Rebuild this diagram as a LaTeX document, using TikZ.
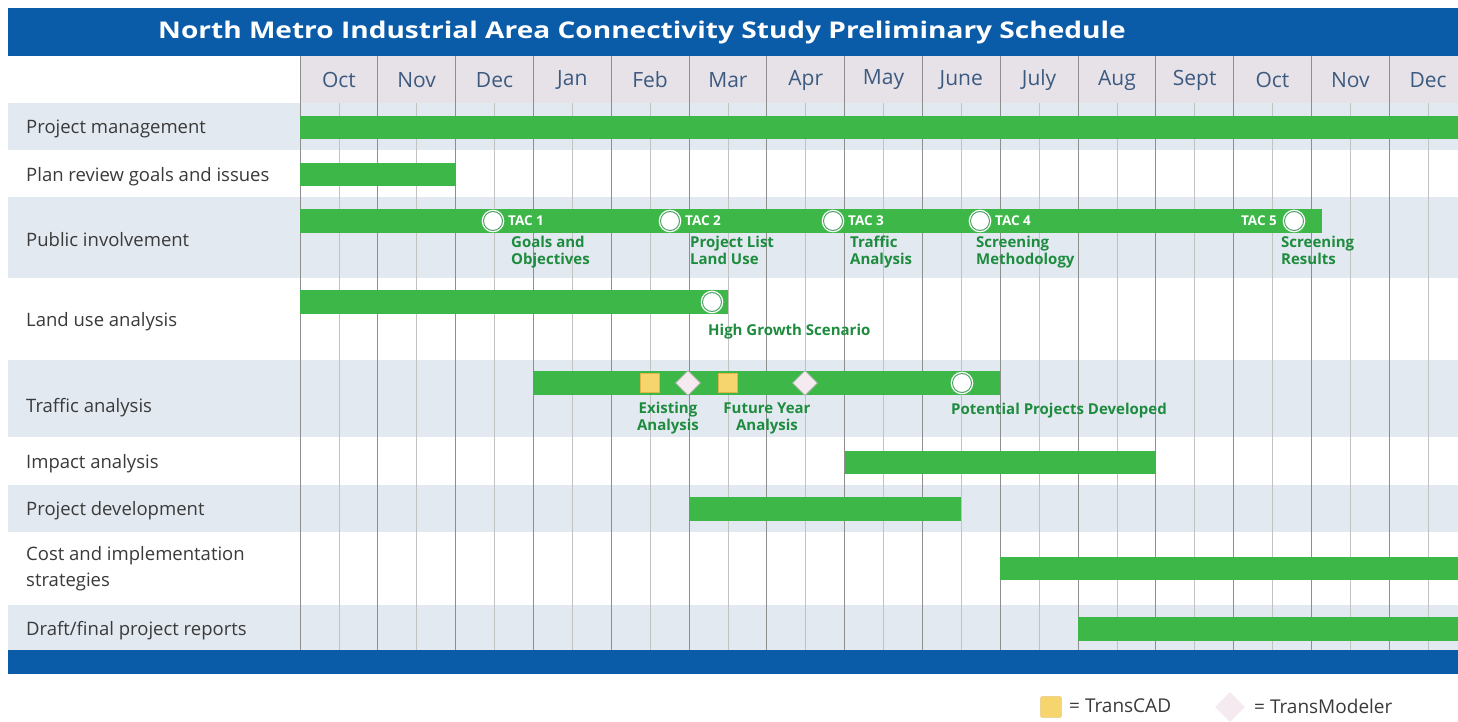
\documentclass[tikz,border=0pt]{standalone}
\usepackage{fontspec}
\setmainfont{Open Sans}
\newfontfamily\titlefont{Open Sans}[FakeStretch=1.22]
\usetikzlibrary{shapes.geometric}
\definecolor{titleblue}{HTML}{0B5CA8}
\definecolor{barg}{HTML}{3DB848}
\definecolor{labg}{HTML}{1E8C3E}
\definecolor{rowshade}{HTML}{E3E9F1}
\definecolor{hdrbg}{HTML}{E7E2E7}
\definecolor{gridd}{HTML}{8E8E8E}
\definecolor{gridl}{HTML}{C2C2C2}
\definecolor{txt}{HTML}{3A3A3A}
\definecolor{monthc}{HTML}{3C5A80}
\definecolor{tcad}{HTML}{F6D56E}
\definecolor{tcadb}{HTML}{E2B54B}
\definecolor{tmod}{HTML}{F4EAF0}
\begin{document}
\begin{tikzpicture}[x=1pt,y=-1pt,
  bar/.style={fill=barg},
  month/.style={font=\fontsize{21}{24}\selectfont, text=monthc, inner sep=0},
  rowlbl/.style={anchor=west, font=\fontsize{18.5}{26}\selectfont, text=txt, inner sep=0, align=left},
  ms/.style={circle, minimum size=19pt, inner sep=0, fill=white, draw=white, double=labg!80, double distance=1pt, line width=1.3pt},
  taclbl/.style={font=\bfseries\fontsize{13.5}{15}\selectfont, text=white, inner sep=0},
  mlbl/.style={font=\bfseries\fontsize{15}{17}\selectfont, text=labg, inner sep=0},
  sqm/.style={rectangle, minimum size=19pt, inner sep=0, fill=tcad, draw=tcadb, line width=0.8pt},
  dm/.style={diamond, minimum size=25pt, inner sep=0, fill=tmod, draw=gray!60, line width=0.7pt},
  leg/.style={anchor=west, font=\fontsize{19}{22}\selectfont, text=txt, inner sep=0}
]
\useasboundingbox (0,0) rectangle (1458,722);
\fill[white] (0,0) rectangle (1458,722);
% title bar
\fill[titleblue] (8,8) rectangle (1458,56);
\node[font=\titlefont\bfseries\fontsize{23}{26}\selectfont, text=white, inner sep=0] (title) at (642,33) {North Metro Industrial Area Connectivity Study Preliminary Schedule};
% header and row shading
\fill[hdrbg] (300,56) rectangle (1458,103);
\fill[rowshade] (8,103) rectangle (1458,150);
\fill[rowshade] (8,197) rectangle (1458,278);
\fill[rowshade] (8,360) rectangle (1458,437);
\fill[rowshade] (8,485) rectangle (1458,532);
\fill[rowshade] (8,605) rectangle (1458,650);
% bottom bar
\fill[titleblue] (8,650) rectangle (1458,674);
% grid
\foreach \i in {0,...,14} {
  \draw[gridl, line width=0.8pt] ({300+(\i+0.5)*77.8},103) -- ({300+(\i+0.5)*77.8},650);
  \draw[gridd, line width=0.9pt] ({300+\i*77.8},56) -- ({300+\i*77.8},650);
}
% months
\foreach \m [count=\i from 0] in {Oct,Nov,Dec,Jan,Feb,Mar,Apr,May,June,July,Aug,Sept,Oct,Nov,Dec}
  \node[month] (m\i) at ({300+(\i+0.5)*77.8},80) {\m};
% row labels
\node[rowlbl] (r1) at (26,129) {Project management};
\node[rowlbl] (r2) at (26,177) {Plan review goals and issues};
\node[rowlbl] (r3) at (26,240) {Public involvement};
\node[rowlbl] (r4) at (26,322) {Land use analysis};
\node[rowlbl] (r5) at (26,408) {Traffic analysis};
\node[rowlbl] (r6) at (26,464) {Impact analysis};
\node[rowlbl] (r7) at (26,511) {Project development};
\node[rowlbl] (r8) at (26,569) {Cost and implementation\\strategies};
\node[rowlbl] (r9) at (26,631) {Draft/final project reports};
% bars
\fill[bar] (300,116) rectangle (1458,139);
\fill[bar] (300,163) rectangle (455.6,186);
\fill[bar] (300,209) rectangle (1322,233);
\fill[bar] (300,290) rectangle (727.9,314);
\fill[bar] (533.4,371) rectangle (1000.2,395);
\fill[bar] (844.6,451) rectangle (1155.8,474);
\fill[bar] (689,497) rectangle (961.3,521);
\fill[bar] (1000.2,557) rectangle (1458,580);
\fill[bar] (1078,617) rectangle (1458,641);
% public involvement milestones
\node[ms] (tac1) at (493,221) {};
\node[taclbl, anchor=west] (tac1t) at (508,221) {TAC 1};
\node[mlbl, anchor=north west, align=left] (tac1d) at (511,236) {Goals and\\Objectives};
\node[ms] (tac2) at (670,221) {};
\node[taclbl, anchor=west] (tac2t) at (685,221) {TAC 2};
\node[mlbl, anchor=north west, align=left] (tac2d) at (690,236) {Project List\\Land Use};
\node[ms] (tac3) at (833,221) {};
\node[taclbl, anchor=west] (tac3t) at (848,221) {TAC 3};
\node[mlbl, anchor=north west, align=left] (tac3d) at (850,236) {Traffic\\Analysis};
\node[ms] (tac4) at (980,221) {};
\node[taclbl, anchor=west] (tac4t) at (995,221) {TAC 4};
\node[mlbl, anchor=north west, align=left] (tac4d) at (976,236) {Screening\\Methodology};
\node[ms] (tac5) at (1294,221) {};
\node[taclbl, anchor=east] (tac5t) at (1277,221) {TAC 5};
\node[mlbl, anchor=north west, align=left] (tac5d) at (1281,236) {Screening\\Results};
% land use milestone
\node[ms] (lu) at (712,302) {};
\node[mlbl, anchor=west] (lud) at (708,332) {High Growth Scenario};
% traffic milestones
\node[sqm] (sq1) at (650,383) {};
\node[dm] (dm1) at (688,383) {};
\node[sqm] (sq2) at (728,383) {};
\node[dm] (dm2) at (805,383) {};
\node[ms] (tr) at (962,383) {};
\node[mlbl, align=center] (trd1) at (668,418) {Existing\\Analysis};
\node[mlbl, align=center] (trd2) at (767,418) {Future Year\\Analysis};
\node[mlbl, anchor=west] (trd3) at (951,411) {Potential Projects Developed};
% legend
\node[sqm, minimum size=21pt, rounded corners=2pt, draw=tcadb!60] (lg1) at (1051,707) {};
\node[leg] (lg1t) at (1069,706) {= TransCAD};
\node[diamond, minimum size=30pt, inner sep=0, fill=tmod] (lg2) at (1230,707) {};
\node[leg] (lg2t) at (1254,706) {= TransModeler};
\end{tikzpicture}
\end{document}
